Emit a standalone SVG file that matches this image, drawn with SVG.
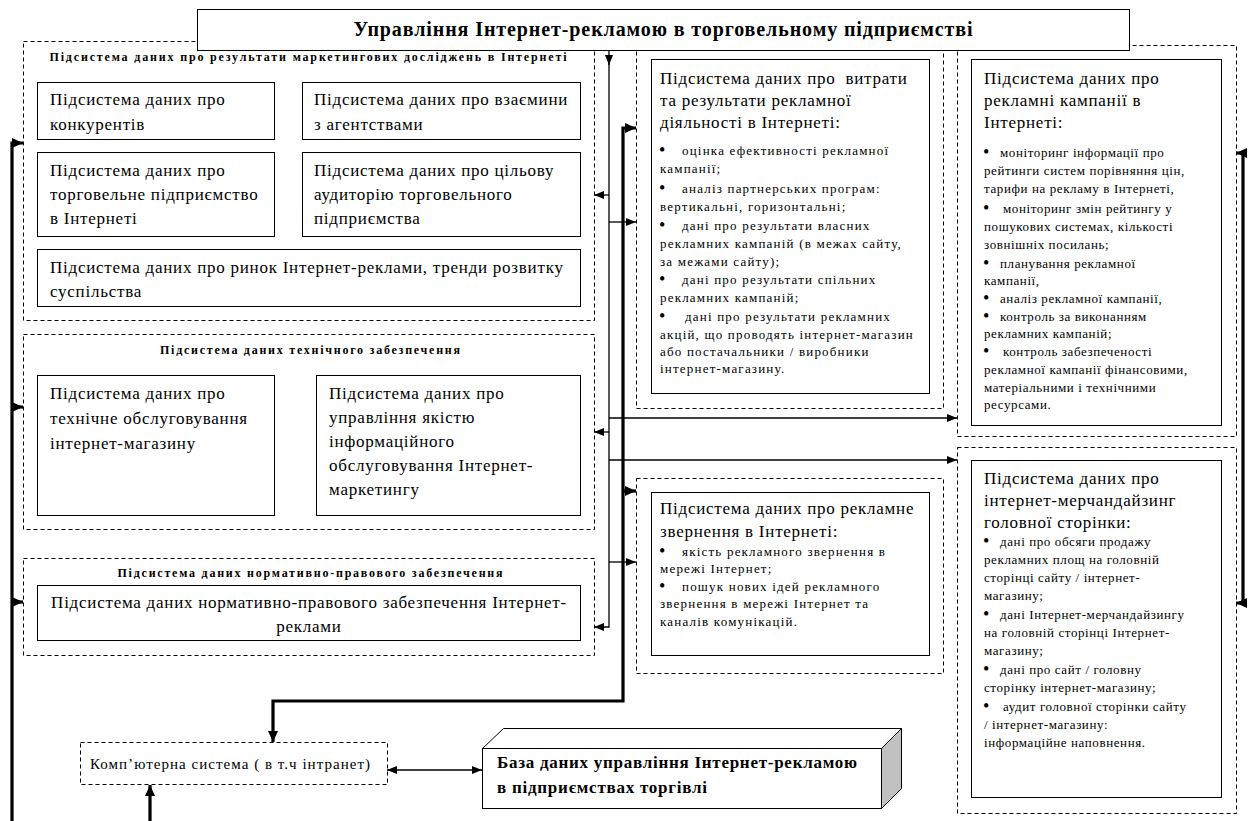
<svg xmlns="http://www.w3.org/2000/svg" width="1248" height="821" viewBox="0 0 1248 821">
  <style>
    .bg { fill: #ffffff; }
    .dash { fill: none; stroke: #000; stroke-width: 1; stroke-dasharray: 4 3; }
    .box { fill: #ffffff; stroke: #000; stroke-width: 1; }
    .t { font-family: "Liberation Serif", "Times New Roman", serif; fill: #000; }
    .big { font-size: 17px; letter-spacing: 0.75px; }
    .hdr { font-size: 12px; font-weight: bold; }
    .sm { font-size: 13px; letter-spacing: 1.2px; }
    .smr { font-size: 13px; letter-spacing: 0.6px; }
    .b { font-size: 18px; letter-spacing: 0; }
    .ttl { font-size: 20px; font-weight: bold; }
    .db { font-size: 17px; font-weight: bold; }
    .thin { fill: none; stroke: #000; stroke-width: 1.3; }
    .thick { fill: none; stroke: #000; stroke-width: 3.2; }
  </style>
  <defs>
    <marker id="ah" markerUnits="userSpaceOnUse" markerWidth="10" markerHeight="8" refX="10" refY="4" orient="auto-start-reverse">
      <path d="M0,0 L10,4 L0,8 z" fill="#000"/>
    </marker>
    <marker id="ahb" markerUnits="userSpaceOnUse" markerWidth="11" markerHeight="10" refX="11" refY="5" orient="auto-start-reverse">
      <path d="M0,0 L11,5 L0,10 z" fill="#000"/>
    </marker>
  </defs>

  <rect class="bg" x="0" y="0" width="1248" height="821"/>

  <!-- dashed group frames (drawn first so the title box covers their top edges) -->
  <g id="frames">
    <rect class="dash" x="23.5" y="41.5" width="571" height="279"/>
    <rect class="dash" x="23.5" y="334.5" width="571" height="195"/>
    <rect class="dash" x="23.5" y="558.5" width="571" height="97"/>
    <rect class="dash" x="636.5" y="45.5" width="307" height="363"/>
    <rect class="dash" x="636.5" y="478.5" width="307" height="195"/>
    <rect class="dash" x="957.5" y="45.5" width="279" height="391"/>
    <rect class="dash" x="957.5" y="447.5" width="279" height="366"/>
  </g>

  <!-- connectors -->
  <g id="connectors">
    <!-- thin distribution trunk from the title -->
    <path class="thin" d="M609,50 V65" marker-end="url(#ah)"/>
    <path class="thin" d="M609,60 V627 H594" marker-end="url(#ah)"/>
    <path class="thin" d="M609,195 H594" marker-end="url(#ah)"/>
    <path class="thin" d="M609,222 H636" marker-end="url(#ah)"/>
    <path class="thin" d="M609,418 H957" marker-end="url(#ah)"/>
    <path class="thin" d="M609,432 H594" marker-end="url(#ah)"/>
    <path class="thin" d="M609,460 H957" marker-end="url(#ah)"/>
    <path class="thin" d="M609,562 H636" marker-end="url(#ah)"/>
    <!-- thick feed from the computer system to the middle column -->
    <path class="thick" d="M273,742 V701 H623 V128 H636" marker-start="url(#ahb)" marker-end="url(#ahb)"/>
    <path class="thick" d="M623,491 H636" marker-end="url(#ahb)"/>
    <!-- left thick bus -->
    <path class="thick" d="M12,821 V143 H23" marker-end="url(#ahb)"/>
    <path class="thick" d="M12,407 H23" marker-end="url(#ahb)"/>
    <path class="thick" d="M12,602 H23" marker-end="url(#ahb)"/>
    <!-- right thick bus -->
    <path class="thick" d="M1236,603 H1243 V153 H1236" marker-start="url(#ahb)" marker-end="url(#ahb)"/>
    <!-- bottom input to the computer system -->
    <path class="thick" d="M150,821 V785" marker-end="url(#ahb)"/>
    <!-- computer system to database -->
    <path class="thin" d="M387,770 H482" marker-start="url(#ah)" marker-end="url(#ah)"/>
  </g>

  <!-- title -->
  <g id="title">
    <rect class="box" x="197.5" y="9.5" width="932" height="41"/>
    <text class="t ttl" x="663" y="36" text-anchor="middle" textLength="619" lengthAdjust="spacing">Управління Інтернет-рекламою в торговельному підприємстві</text>
  </g>

  <!-- marketing research subsystem -->
  <g id="marketing">
    <text class="t hdr" x="308" y="61" text-anchor="middle" textLength="517" lengthAdjust="spacing">Підсистема даних про результати маркетингових досліджень в Інтернеті</text>
  </g>
  <g id="competitors">
    <rect class="box" x="37.5" y="82.5" width="237" height="57"/>
    <text class="t big" x="50" y="105">Підсистема даних про</text>
    <text class="t big" x="50" y="130">конкурентів</text>
  </g>
  <g id="agencies">
    <rect class="box" x="302.5" y="82.5" width="278" height="57"/>
    <text class="t big" x="314" y="105">Підсистема даних про взаємини</text>
    <text class="t big" x="314" y="130">з агентствами</text>
  </g>
  <g id="enterprise">
    <rect class="box" x="37.5" y="152.5" width="237" height="84"/>
    <text class="t big" x="50" y="176">Підсистема даних про</text>
    <text class="t big" x="50" y="200">торговельне підприємство</text>
    <text class="t big" x="50" y="224">в Інтернеті</text>
  </g>
  <g id="audience">
    <rect class="box" x="302.5" y="152.5" width="278" height="84"/>
    <text class="t big" x="314" y="176">Підсистема даних про цільову</text>
    <text class="t big" x="314" y="200">аудиторію торговельного</text>
    <text class="t big" x="314" y="224">підприємства</text>
  </g>
  <g id="market">
    <rect class="box" x="37.5" y="249.5" width="543" height="57"/>
    <text class="t big" x="50" y="273">Підсистема даних про ринок Інтернет-реклами, тренди розвитку</text>
    <text class="t big" x="50" y="297">суспільства</text>
  </g>

  <!-- technical support subsystem -->
  <g id="technical">
    <text class="t hdr" x="310" y="354" text-anchor="middle" textLength="300" lengthAdjust="spacing">Підсистема даних технічного забезпечення</text>
  </g>
  <g id="maintenance">
    <rect class="box" x="37.5" y="375.5" width="237" height="140"/>
    <text class="t big" x="50" y="399">Підсистема даних про</text>
    <text class="t big" x="50" y="424">технічне обслуговування</text>
    <text class="t big" x="50" y="449">інтернет-магазину</text>
  </g>
  <g id="quality">
    <rect class="box" x="316.5" y="375.5" width="264" height="140"/>
    <text class="t big" x="329" y="399">Підсистема даних про</text>
    <text class="t big" x="329" y="423">управління якістю</text>
    <text class="t big" x="329" y="447">інформаційного</text>
    <text class="t big" x="329" y="471">обслуговування Інтернет-</text>
    <text class="t big" x="329" y="495">маркетингу</text>
  </g>

  <!-- legal subsystem -->
  <g id="legal">
    <text class="t hdr" x="310" y="577" text-anchor="middle" textLength="385" lengthAdjust="spacing">Підсистема даних нормативно-правового забезпечення</text>
    <rect class="box" x="37.5" y="585.5" width="543" height="55"/>
    <text class="t big" x="309" y="608" text-anchor="middle">Підсистема даних нормативно-правового забезпечення Інтернет-</text>
    <text class="t big" x="309" y="632" text-anchor="middle">реклами</text>
  </g>

  <!-- costs and results of advertising -->
  <g id="costs">
    <rect class="box" x="651.5" y="59.5" width="278" height="334"/>
    <text class="t big" x="660" y="84" xml:space="preserve">Підсистема даних про  витрати</text>
    <text class="t big" x="660" y="106">та результати рекламної</text>
    <text class="t big" x="660" y="128">діяльності в Інтернеті:</text>
    <g class="t sm">
      <text class="b" x="659" y="156">•</text><text x="682" y="155">оцінка ефективності рекламної</text>
      <text x="660" y="173">кампанії;</text>
      <text class="b" x="659" y="194">•</text><text x="682" y="193">аналіз партнерських програм:</text>
      <text x="660" y="211">вертикальні, горизонтальні;</text>
      <text class="b" x="659" y="231">•</text><text x="682" y="230">дані про результати власних</text>
      <text x="660" y="248">рекламних кампаній (в межах сайту,</text>
      <text x="660" y="266">за межами сайту);</text>
      <text class="b" x="659" y="285">•</text><text x="682" y="284">дані про результати спільних</text>
      <text x="660" y="302">рекламних кампаній;</text>
      <text class="b" x="659" y="322">•</text><text x="685" y="321">дані про результати рекламних</text>
      <text x="660" y="339">акцій, що проводять інтернет-магазин</text>
      <text x="660" y="356">або постачальники / виробники</text>
      <text x="660" y="373">інтернет-магазину.</text>
    </g>
  </g>

  <!-- advertising message -->
  <g id="message">
    <rect class="box" x="651.5" y="492.5" width="278" height="163"/>
    <text class="t big" x="660" y="514">Підсистема даних про рекламне</text>
    <text class="t big" x="660" y="537">звернення в Інтернеті:</text>
    <g class="t sm">
      <text class="b" x="659" y="557">•</text><text x="682" y="556">якість рекламного звернення в</text>
      <text x="660" y="573">мережі Інтернет;</text>
      <text class="b" x="659" y="592">•</text><text x="682" y="591">пошук нових ідей рекламного</text>
      <text x="660" y="608">звернення в мережі Інтернет та</text>
      <text x="660" y="626">каналів комунікацій.</text>
    </g>
  </g>

  <!-- advertising campaigns -->
  <g id="campaigns">
    <rect class="box" x="971.5" y="59.5" width="250" height="366"/>
    <text class="t big" x="984" y="84">Підсистема даних про</text>
    <text class="t big" x="984" y="106">рекламні кампанії в</text>
    <text class="t big" x="984" y="128">Інтернеті:</text>
    <g class="t smr">
      <text class="b" x="983" y="158">•</text><text x="1000" y="157">моніторинг інформації про</text>
      <text x="984" y="175">рейтинги систем порівняння цін,</text>
      <text x="984" y="193">тарифи на рекламу в Інтернеті,</text>
      <text class="b" x="983" y="214">•</text><text x="1003" y="213">моніторинг змін рейтингу у</text>
      <text x="984" y="231">пошукових системах, кількості</text>
      <text x="984" y="249">зовнішніх посилань;</text>
      <text class="b" x="983" y="269">•</text><text x="1000" y="268">планування рекламної</text>
      <text x="984" y="285">кампанії,</text>
      <text class="b" x="983" y="304">•</text><text x="1000" y="303">аналіз рекламної кампанії,</text>
      <text class="b" x="983" y="322">•</text><text x="1000" y="321">контроль за виконанням</text>
      <text x="984" y="338">рекламних кампаній;</text>
      <text class="b" x="983" y="357">•</text><text x="1003" y="356">контроль забезпеченості</text>
      <text x="984" y="374">рекламної кампанії фінансовими,</text>
      <text x="984" y="392">матеріальними і технічними</text>
      <text x="984" y="409">ресурсами.</text>
    </g>
  </g>

  <!-- home page merchandising -->
  <g id="merchandising">
    <rect class="box" x="971.5" y="460.5" width="250" height="337"/>
    <text class="t big" x="984" y="484">Підсистема даних про</text>
    <text class="t big" x="984" y="506">інтернет-мерчандайзинг</text>
    <text class="t big" x="984" y="528">головної сторінки:</text>
    <g class="t smr">
      <text class="b" x="983" y="547">•</text><text x="1000" y="546">дані про обсяги продажу</text>
      <text x="984" y="564">рекламних площ на головній</text>
      <text x="984" y="582">сторінці сайту / інтернет-</text>
      <text x="984" y="600">магазину;</text>
      <text class="b" x="983" y="620">•</text><text x="1000" y="619">дані Інтернет-мерчандайзингу</text>
      <text x="984" y="637">на головній сторінці Інтернет-</text>
      <text x="984" y="655">магазину;</text>
      <text class="b" x="983" y="675">•</text><text x="1000" y="674">дані про сайт / головну</text>
      <text x="984" y="692">сторінку інтернет-магазину;</text>
      <text class="b" x="983" y="712">•</text><text x="1003" y="711">аудит головної сторінки сайту</text>
      <text x="984" y="729">/ інтернет-магазину:</text>
      <text x="984" y="747">інформаційне наповнення.</text>
    </g>
  </g>

  <!-- computer system -->
  <g id="computer">
    <rect class="dash" x="80.5" y="742.5" width="307" height="42" fill="#fff"/>
    <text class="t" x="90" y="769" font-size="15" textLength="280" lengthAdjust="spacing">Комп’ютерна система ( в т.ч інтранет)</text>
  </g>

  <!-- database block (3D box) -->
  <g id="database">
    <polygon points="482.5,748.5 503.5,728.5 901.5,728.5 881.5,748.5" fill="#ffffff" stroke="#000" stroke-width="1"/>
    <polygon points="881.5,748.5 901.5,728.5 901.5,788.5 881.5,808.5" fill="#c0c0c0" stroke="#000" stroke-width="1"/>
    <rect class="box" x="482.5" y="748.5" width="399" height="60"/>
    <text class="t db" x="497" y="768" textLength="360" lengthAdjust="spacing">База даних управління Інтернет-рекламою</text>
    <text class="t db" x="497" y="793" textLength="210" lengthAdjust="spacing">в підприємствах торгівлі</text>
  </g>
</svg>
